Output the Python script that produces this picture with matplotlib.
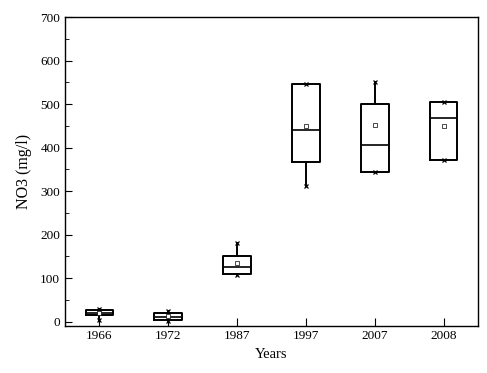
import matplotlib.pyplot as plt
from matplotlib.ticker import MultipleLocator

# NO3 boxplot stats per year
years = ["1966", "1972", "1987", "1997", "2007", "2008"]
q1 = [16, 4, 110, 367, 344, 371]
medians = [20, 10, 126, 440, 406, 469]
q3 = [27, 20, 151, 547, 500, 504]
mins = [5, 1, 108, 311, 344, 371]
maxs = [30, 25, 180, 547, 551, 504]
means = [21, 12, 136, 450, 451, 449]

plt.rcParams['font.family'] = ['Liberation Serif', 'DejaVu Serif']

fig = plt.figure(figsize=(4.87, 3.73), dpi=100)
ax = fig.add_axes([0.1335, 0.127, 0.848, 0.827])

stats = []
for i in range(len(years)):
    stats.append({
        "label": years[i],
        "q1": q1[i], "med": medians[i], "q3": q3[i],
        "whislo": mins[i], "whishi": maxs[i],
        "mean": means[i], "fliers": [],
    })

pos = list(range(len(years)))
ax.bxp(stats, positions=pos, widths=0.4, showmeans=True, showcaps=False,
       showfliers=False,
       boxprops=dict(color="black", linewidth=1.4),
       medianprops=dict(color="black", linewidth=1.2),
       whiskerprops=dict(color="black", linewidth=1.4),
       meanprops=dict(marker="s", markersize=3, markerfacecolor="white",
                      markeredgecolor="black", markeredgewidth=0.5))

# min / max markers
ax.plot(pos, mins, "x", color="black", markersize=3, markeredgewidth=0.9)
ax.plot(pos, maxs, "x", color="black", markersize=3, markeredgewidth=0.9)

ax.set_xlim(-0.5, 5.5)
ax.set_ylim(-9, 700)
ax.set_xticks(pos)
ax.set_xticklabels(years)
ax.yaxis.set_major_locator(MultipleLocator(100))
ax.yaxis.set_minor_locator(MultipleLocator(50))
ax.tick_params(axis="both", which="both", direction="in", labelsize=9.5,
               right=False, top=False)
ax.tick_params(axis="x", length=6)
ax.tick_params(axis="y", which="major", length=5)
ax.tick_params(axis="y", which="minor", length=3)
for s in ax.spines.values():
    s.set_linewidth(1.0)

ax.set_xlabel("Years", fontsize=10.5)
ax.set_ylabel("NO3 (mg/l)", fontsize=11.5, labelpad=6)

fig.savefig("out.png", dpi=100)
